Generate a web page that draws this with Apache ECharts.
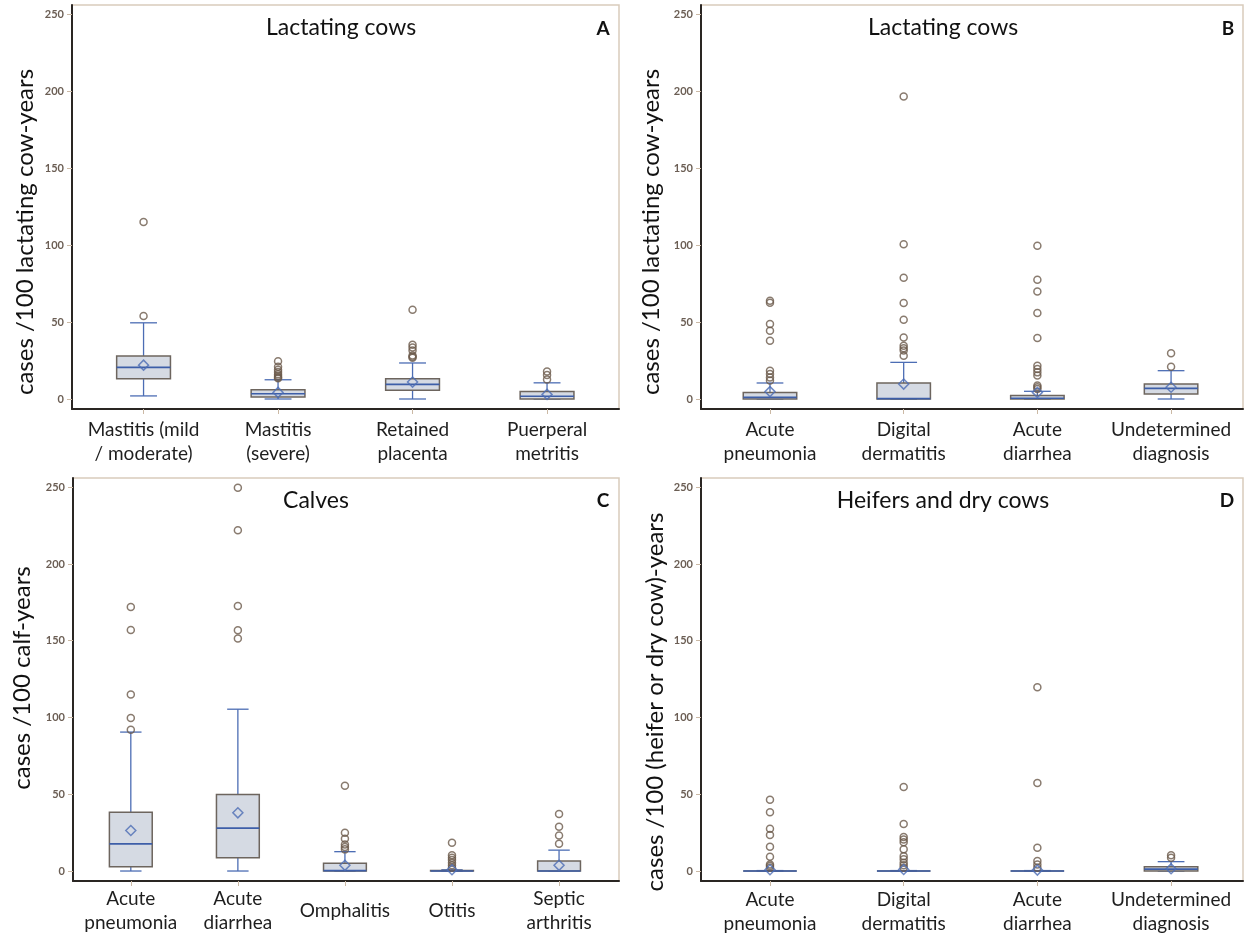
<!DOCTYPE html>
<html>
<head>
<meta charset="utf-8">
<script src="https://cdn.jsdelivr.net/npm/echarts@6/dist/echarts.min.js"></script>
<style>
  html, body { margin: 0; background: #fff; }
  #chart { width: 1244px; height: 936px; }
</style>
</head>
<body>
<div id="chart"></div>
<script>
// ---- data ----
// box rows: [lower whisker, Q1, median, Q3, upper whisker]
const catsA = ['Mastitis (mild\n/ moderate)', 'Mastitis\n(severe)', 'Retained\nplacenta', 'Puerperal\nmetritis'];
const boxA = [[2, 13.2, 20.5, 28, 49.5], [0, 1.3, 3.4, 6, 12.5], [0, 5.7, 9.5, 13.2, 23.4], [0, 0, 1.8, 4.8, 10.5]];
const meanA = [22, 4.3, 11, 3];
const outA = [[115, 54], [24.5, 21, 19, 17.5, 16, 15, 14, 13.5], [58, 35.3, 33.5, 31.5, 28.2, 27.5, 26.8], [17.8, 15.6, 12.6]];

const catsB = ['Acute\npneumonia', 'Digital\ndermatitis', 'Acute\ndiarrhea', 'Undetermined\ndiagnosis'];
const boxB = [[0, 0, 1, 4.3, 10.4], [0, 0, 0.3, 10.4, 23.8], [0, 0, 0.5, 2.2, 5], [0, 3.2, 6.9, 9.7, 18.4]];
const meanB = [4.8, 9.7, 4.3, 7.6];
const outB = [[63.8, 62.5, 48.7, 44.4, 37.9, 18.4, 16.2, 14, 12],
  [196.6, 100.6, 78.8, 62.3, 51.5, 40, 34.6, 33, 31.5, 28.1],
  [99.6, 77.5, 69.9, 55.8, 39.6, 21.6, 19.5, 17.3, 15.2, 8.7, 7.6, 6.5],
  [29.7, 21]];

const catsC = ['Acute\npneumonia', 'Acute\ndiarrhea', 'Omphalitis', 'Otitis', 'Septic\narthritis'];
const boxC = [[0, 2.8, 17.7, 38.3, 90.5], [0, 8.7, 27.9, 49.8, 105.4], [0, 0, 0.3, 5, 12.6], [0, 0, 0, 0.3, 0.8], [0, 0, 0, 6.5, 13.6]];
const meanC = [26.4, 37.9, 3.7, 0.8, 3.7];
const outC = [[172, 157, 115, 99.6, 92],
  [249.6, 221.9, 172.7, 156.9, 151.5],
  [55.6, 24.9, 21, 17.3, 15.6, 14.1],
  [18.4, 10.2, 8.7, 7.1, 5.4, 3.7, 2.2],
  [37.2, 28.8, 23.2, 17.7]];

const catsD = ['Acute\npneumonia', 'Digital\ndermatitis', 'Acute\ndiarrhea', 'Undetermined\ndiagnosis'];
const boxD = [[0, 0, 0, 0, 0.3], [0, 0, 0, 0, 0.3], [0, 0, 0, 0, 0.3], [0, 0, 1.2, 2.8, 6.1]];
const meanD = [0.8, 1, 0.6, 1.5];
const outD = [[46.5, 38.3, 27.5, 23.4, 15.8, 9.3, 4.3, 3.2, 2.2],
  [54.8, 30.7, 22.1, 20.6, 18.8, 14.1, 9.7, 7.6, 5.4, 3.7, 2.2],
  [119.7, 57.4, 15.2, 6.5, 4.3, 2.2],
  [10.2, 8.7]];

const yTicks = [0, 50, 100, 150, 200, 250];
const titles = ['Lactating cows', 'Lactating cows', 'Calves', 'Heifers and dry cows'];
const letters = ['A', 'B', 'C', 'D'];
const yNames = ['cases /100 lactating cow-years', 'cases /100 lactating cow-years',
  'cases /100 calf-years', 'cases /100 (heifer or dry cow)-years'];

// ---- layout ----
const FONT = 'Lato';
const BLUE = '#4c6db4';
const BLUE_DARK = '#3d5ea8';
const BOX_FILL = '#d5dae3';
const BOX_EDGE = '#6d655e';

const panels = [
  { cats: catsA, box: boxA, mean: meanA, out: outA, grid: { left: 72, top: 5, width: 547, height: 404 }, xr: [-0.532, 3.535], margin: 33,
    title: [341, 16], letter: [603, 19], yName: [25, 232] },
  { cats: catsB, box: boxB, mean: meanB, out: outB, grid: { left: 701, top: 5, width: 542, height: 404 }, xr: [-0.516, 3.538], margin: 33,
    title: [943, 16], letter: [1228, 19], yName: [651, 232] },
  { cats: catsC, box: boxC, mean: meanC, out: outC, grid: { left: 73, top: 478, width: 546, height: 403 }, xr: [-0.54, 4.56], margin: 30,
    title: [316, 489], letter: [603, 491], yName: [22, 678] },
  { cats: catsD, box: boxD, mean: meanD, out: outD, grid: { left: 701, top: 478, width: 542, height: 403 }, xr: [-0.516, 3.538], margin: 31,
    title: [943, 489], letter: [1227, 491], yName: [655, 702] }
];

function renderBox(params, api) {
  const x = api.value(0);
  const lo = api.coord([x, api.value(1)]);
  const q1 = api.coord([x, api.value(2)]);
  const md = api.coord([x, api.value(3)]);
  const q3 = api.coord([x, api.value(4)]);
  const hi = api.coord([x, api.value(5)]);
  const band = api.size([1, 0])[0];
  const bw = band * 0.4, cw = band * 0.2;
  const cx = lo[0];
  const ws = { stroke: BLUE, lineWidth: 1.3 };
  return {
    type: 'group',
    children: [
      { type: 'line', shape: { x1: cx, y1: lo[1], x2: cx, y2: q1[1] }, style: ws },
      { type: 'line', shape: { x1: cx, y1: q3[1], x2: cx, y2: hi[1] }, style: ws },
      { type: 'line', shape: { x1: cx - cw / 2, y1: lo[1], x2: cx + cw / 2, y2: lo[1] }, style: ws },
      { type: 'line', shape: { x1: cx - cw / 2, y1: hi[1], x2: cx + cw / 2, y2: hi[1] }, style: ws },
      { type: 'rect', shape: { x: cx - bw / 2, y: q3[1], width: bw, height: q1[1] - q3[1] },
        style: { fill: BOX_FILL, stroke: BOX_EDGE, lineWidth: 1.5 } },
      { type: 'line', shape: { x1: cx - bw / 2, y1: md[1], x2: cx + bw / 2, y2: md[1] },
        style: { stroke: BLUE_DARK, lineWidth: 1.7 } }
    ]
  };
}

const grid = [], xAxis = [], yAxis = [], series = [], title = [], graphic = [];

panels.forEach((p, k) => {
  const idx = p.cats.map((c, i) => i);
  grid.push(Object.assign({ show: true, borderColor: '#d9ccbc', borderWidth: 1.5 }, p.grid));
  xAxis.push({
    type: 'value', gridIndex: k, min: p.xr[0], max: p.xr[1],
    axisLine: { onZero: false, lineStyle: { color: '#2a2623', width: 2 } },
    axisTick: { show: true, customValues: idx, length: 5, lineStyle: { color: '#cbb9a5' } },
    axisLabel: {
      customValues: idx, formatter: v => p.cats[Math.round(v)],
      fontFamily: FONT, fontSize: 19, color: '#1e1e1e', lineHeight: 24,
      verticalAlign: 'middle', margin: p.margin
    },
    splitLine: { show: false }
  });
  yAxis.push({
    type: 'value', gridIndex: k, min: -6.5, max: 256,
    axisLine: { show: true, onZero: false, lineStyle: { color: '#2a2623', width: 2 } },
    axisTick: { show: true, customValues: yTicks, length: 5, lineStyle: { color: '#cbb9a5' } },
    axisLabel: { customValues: yTicks, fontFamily: FONT, fontSize: 11, fontWeight: 'bold', color: '#6b5e54', margin: 8 },
    splitLine: { show: false }
  });
  series.push({
    type: 'custom', xAxisIndex: k, yAxisIndex: k,
    renderItem: renderBox,
    encode: { x: 0, y: [1, 2, 3, 4, 5] },
    data: p.box.map((b, i) => [i].concat(b)),
    silent: true, z: 2
  });
  series.push({
    type: 'scatter', xAxisIndex: k, yAxisIndex: k,
    symbol: 'circle', symbolSize: 7,
    itemStyle: { color: 'rgba(255,255,255,0)', borderColor: '#6b5a4b', borderWidth: 1.5 },
    data: p.out.flatMap((arr, i) => arr.map(v => [i, v])),
    silent: true, z: 3
  });
  series.push({
    type: 'scatter', xAxisIndex: k, yAxisIndex: k,
    symbol: 'diamond', symbolSize: [10, 10],
    itemStyle: { color: 'rgba(255,255,255,0)', borderColor: BLUE, borderWidth: 1.5 },
    data: p.mean.map((v, i) => [i, v]),
    silent: true, z: 4
  });
  title.push({
    text: titles[k], left: p.title[0], top: p.title[1], textAlign: 'center', padding: 0,
    textStyle: { fontFamily: FONT, fontSize: 23, fontWeight: 'normal', color: '#111' }
  });
  title.push({
    text: letters[k], left: p.letter[0], top: p.letter[1], textAlign: 'center', padding: 0,
    textStyle: { fontFamily: FONT, fontSize: 19, fontWeight: 'bold', color: '#111' }
  });
  graphic.push({
    type: 'text', x: p.yName[0], y: p.yName[1], rotation: Math.PI / 2,
    style: { text: yNames[k], font: '24px Lato', fill: '#111', align: 'center', verticalAlign: 'middle' }
  });
});

const chart = echarts.init(document.getElementById('chart'));
chart.setOption({
  animation: false,
  backgroundColor: '#fff',
  title: title,
  grid: grid,
  xAxis: xAxis,
  yAxis: yAxis,
  series: series,
  graphic: graphic
});
</script>
</body>
</html>
